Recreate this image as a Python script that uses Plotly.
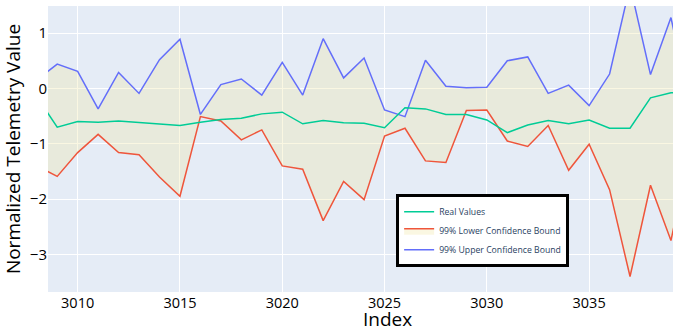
"""
    Telemetry forecast with 99% confidence band
"""

##########==========##########==========##########==========##########==========
## HEADER

import plotly.graph_objects as go

## data
index = list(range(3008, 3041))
real_values = [-0.15, -0.70, -0.60, -0.61, -0.59, -0.62, -0.65, -0.67, -0.61, -0.56, -0.54,
               -0.46, -0.43, -0.64, -0.58, -0.62, -0.63, -0.71, -0.35, -0.37, -0.47, -0.47,
               -0.57, -0.80, -0.66, -0.58, -0.64, -0.57, -0.72, -0.72, -0.17, -0.08, -0.05]
lower_bound = [-1.40, -1.59, -1.16, -0.83, -1.16, -1.20, -1.60, -1.95, -0.51, -0.59, -0.93,
               -0.75, -1.40, -1.46, -2.39, -1.68, -2.01, -0.86, -0.72, -1.31, -1.34, -0.40,
               -0.39, -0.95, -1.05, -0.67, -1.48, -1.01, -1.83, -3.40, -1.75, -2.75, -1.00]
upper_bound = [0.15, 0.44, 0.31, -0.37, 0.29, -0.09, 0.52, 0.89, -0.47, 0.07, 0.17,
               -0.12, 0.47, -0.12, 0.90, 0.19, 0.55, -0.39, -0.51, 0.51, 0.04, 0.01,
               0.02, 0.50, 0.57, -0.09, 0.06, -0.31, 0.26, 1.86, 0.25, 1.28, -0.45]

params = {
    'green': '#00cc96', 'red': '#EF553B', 'blue': '#636efa',
    'band': 'rgba(240, 230, 160, 0.3)', 'font': 'Open Sans',
}

##########==========##########==========##########==========##########==========
## FIGURE

fig = go.Figure()

## upper bound first so the lower bound can fill up to it
fig.add_trace(go.Scatter(
    x = index, y = upper_bound, mode = 'lines', name = '99% Upper Confidence Bound',
    line = dict(color = params['blue'], width = 1.5), legendrank = 3
    ))
fig.add_trace(go.Scatter(
    x = index, y = lower_bound, mode = 'lines', name = '99% Lower Confidence Bound',
    line = dict(color = params['red'], width = 1.5), fill = 'tonexty',
    fillcolor = params['band'], legendrank = 2
    ))
fig.add_trace(go.Scatter(
    x = index, y = real_values, mode = 'lines', name = 'Real Values',
    line = dict(color = params['green'], width = 1.5), legendrank = 1
    ))

fig.update_layout(
    width = 678, height = 331,
    margin = dict(l = 48, r = 5, t = 6, b = 39),
    plot_bgcolor = '#E5ECF6', paper_bgcolor = 'white',
    font = dict(family = params['font'], size = 15, color = 'black'),
    xaxis = dict(
        range = [3008.55, 3039.1], tick0 = 3010, dtick = 5, gridcolor = 'white',
        zeroline = False, showline = False, automargin = False,
        tickfont = dict(size = 14.5)
        ),
    yaxis = dict(
        range = [-3.68, 1.49], tick0 = 0, dtick = 1, gridcolor = 'white',
        zeroline = False, automargin = False,
        title = dict(text = 'Normalized Telemetry Value', font = dict(size = 19), standoff = 6)
        ),
    legend = dict(
        x = 0.557, y = 0.342, xanchor = 'left', yanchor = 'top', traceorder = 'normal',
        bgcolor = 'white', bordercolor = 'black', borderwidth = 3,
        font = dict(size = 8.7, color = '#2a3f5f')
        ),
    annotations = [dict(
        text = 'Index', xref = 'paper', yref = 'paper', x = 0.543, y = -0.093,
        xanchor = 'center', yanchor = 'middle', showarrow = False,
        font = dict(size = 19, color = 'black')
        )]
)

## drop the default page margin so the figure sits at the window's corner
fig.write_html('out.html', config = {'displayModeBar': False},
               post_script = "document.body.style.margin = '0';")
